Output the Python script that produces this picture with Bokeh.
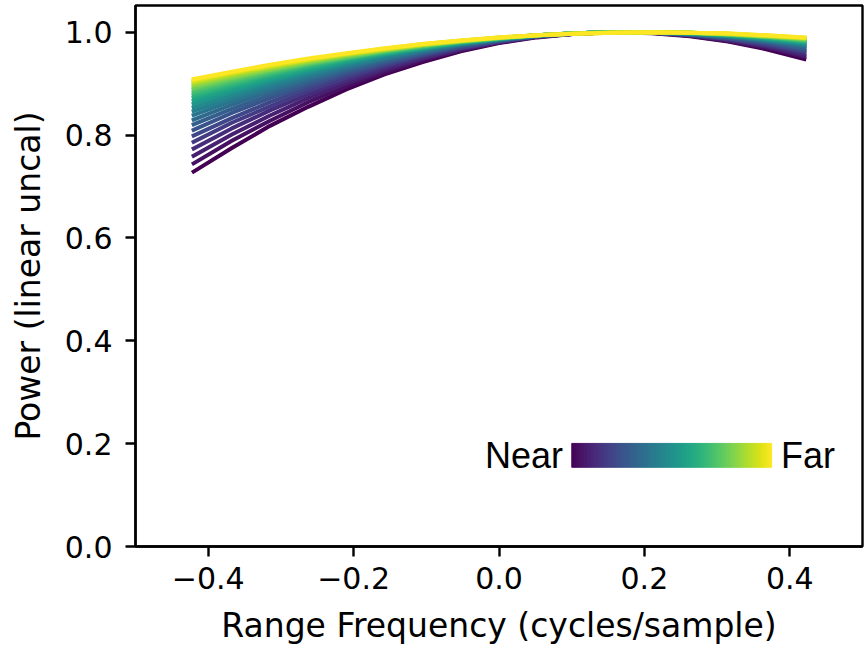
from bokeh.plotting import figure
from bokeh.models import FixedTicker, Range1d
from bokeh.palettes import viridis, Viridis256
from bokeh.core.properties import value
from bokeh.embed import file_html
from bokeh.resources import INLINE

# Range frequency sample positions (cycles/sample)
freq = [-0.42, -0.3675, -0.315, -0.2625, -0.21, -0.1575, -0.105, -0.0525, 0.0,
        0.0525, 0.105, 0.1575, 0.21, 0.2625, 0.315, 0.3675, 0.42]

# Normalised power per range bin, ordered from near (purple) to far (yellow)
curve_01 = [0.729, 0.775, 0.818, 0.855, 0.889, 0.918, 0.942, 0.963, 0.979, 0.990, 0.997, 1.000, 0.998, 0.992, 0.982, 0.967, 0.948]
curve_02 = [0.745, 0.789, 0.828, 0.864, 0.895, 0.922, 0.946, 0.965, 0.980, 0.991, 0.997, 1.000, 0.999, 0.993, 0.983, 0.970, 0.952]
curve_03 = [0.760, 0.801, 0.838, 0.872, 0.901, 0.927, 0.949, 0.967, 0.981, 0.991, 0.997, 1.000, 0.999, 0.994, 0.985, 0.972, 0.955]
curve_04 = [0.774, 0.813, 0.848, 0.879, 0.907, 0.931, 0.951, 0.968, 0.982, 0.991, 0.997, 1.000, 0.999, 0.994, 0.986, 0.974, 0.959]
curve_05 = [0.787, 0.824, 0.856, 0.886, 0.912, 0.935, 0.954, 0.970, 0.982, 0.992, 0.997, 1.000, 0.999, 0.995, 0.987, 0.976, 0.962]
curve_06 = [0.799, 0.833, 0.864, 0.892, 0.917, 0.938, 0.956, 0.971, 0.983, 0.992, 0.997, 1.000, 0.999, 0.995, 0.988, 0.978, 0.964]
curve_07 = [0.810, 0.843, 0.872, 0.898, 0.921, 0.941, 0.958, 0.973, 0.984, 0.992, 0.998, 1.000, 0.999, 0.996, 0.989, 0.980, 0.967]
curve_08 = [0.821, 0.851, 0.878, 0.903, 0.925, 0.944, 0.960, 0.974, 0.985, 0.992, 0.998, 1.000, 0.999, 0.996, 0.990, 0.981, 0.969]
curve_09 = [0.830, 0.859, 0.885, 0.908, 0.929, 0.947, 0.962, 0.975, 0.985, 0.993, 0.998, 1.000, 0.999, 0.996, 0.991, 0.983, 0.972]
curve_10 = [0.839, 0.866, 0.890, 0.912, 0.932, 0.949, 0.964, 0.976, 0.986, 0.993, 0.998, 1.000, 1.000, 0.997, 0.992, 0.984, 0.974]
curve_11 = [0.847, 0.872, 0.896, 0.917, 0.935, 0.951, 0.965, 0.977, 0.986, 0.993, 0.998, 1.000, 1.000, 0.997, 0.992, 0.985, 0.976]
curve_12 = [0.854, 0.878, 0.901, 0.920, 0.938, 0.954, 0.967, 0.978, 0.987, 0.993, 0.998, 1.000, 1.000, 0.997, 0.993, 0.986, 0.977]
curve_13 = [0.861, 0.884, 0.905, 0.924, 0.941, 0.956, 0.968, 0.979, 0.987, 0.993, 0.998, 1.000, 1.000, 0.998, 0.993, 0.987, 0.979]
curve_14 = [0.867, 0.889, 0.909, 0.927, 0.943, 0.957, 0.969, 0.979, 0.987, 0.994, 0.998, 1.000, 1.000, 0.998, 0.994, 0.988, 0.980]
curve_15 = [0.873, 0.894, 0.913, 0.930, 0.946, 0.959, 0.970, 0.980, 0.988, 0.994, 0.998, 1.000, 1.000, 0.998, 0.995, 0.989, 0.982]
curve_16 = [0.878, 0.898, 0.917, 0.933, 0.948, 0.960, 0.971, 0.981, 0.988, 0.994, 0.998, 1.000, 1.000, 0.998, 0.995, 0.990, 0.983]
curve_17 = [0.883, 0.902, 0.920, 0.936, 0.950, 0.962, 0.972, 0.981, 0.988, 0.994, 0.998, 1.000, 1.000, 0.999, 0.995, 0.991, 0.984]
curve_18 = [0.888, 0.906, 0.923, 0.938, 0.951, 0.963, 0.973, 0.982, 0.989, 0.994, 0.998, 1.000, 1.000, 0.999, 0.996, 0.991, 0.985]
curve_19 = [0.892, 0.910, 0.926, 0.940, 0.953, 0.964, 0.974, 0.982, 0.989, 0.994, 0.998, 1.000, 1.000, 0.999, 0.996, 0.992, 0.986]
curve_20 = [0.896, 0.913, 0.928, 0.942, 0.954, 0.965, 0.975, 0.983, 0.989, 0.994, 0.998, 1.000, 1.000, 0.999, 0.996, 0.992, 0.987]
curve_21 = [0.900, 0.916, 0.931, 0.944, 0.956, 0.966, 0.975, 0.983, 0.989, 0.994, 0.998, 0.999, 1.000, 0.999, 0.997, 0.993, 0.988]
curve_22 = [0.903, 0.919, 0.933, 0.946, 0.957, 0.967, 0.976, 0.983, 0.990, 0.994, 0.997, 0.999, 1.000, 0.999, 0.997, 0.993, 0.989]
curve_23 = [0.906, 0.921, 0.935, 0.947, 0.958, 0.968, 0.977, 0.984, 0.990, 0.994, 0.997, 0.999, 1.000, 0.999, 0.997, 0.994, 0.989]
curve_24 = [0.909, 0.923, 0.937, 0.949, 0.959, 0.969, 0.977, 0.984, 0.990, 0.994, 0.997, 0.999, 1.000, 0.999, 0.998, 0.994, 0.990]

curves = [curve_01, curve_02, curve_03, curve_04, curve_05, curve_06,
          curve_07, curve_08, curve_09, curve_10, curve_11, curve_12,
          curve_13, curve_14, curve_15, curve_16, curve_17, curve_18,
          curve_19, curve_20, curve_21, curve_22, curve_23, curve_24]

x_ticks = [-0.4, -0.2, 0.0, 0.2, 0.4]
x_tick_labels = ["\u22120.4", "\u22120.2", "0.0", "0.2", "0.4"]
y_ticks = [0.0, 0.2, 0.4, 0.6, 0.8, 1.0]
y_tick_labels = ["0.0", "0.2", "0.4", "0.6", "0.8", "1.0"]

legend_labels = ["Near", "Far"]

p = figure(width=865, height=647,
           x_range=Range1d(-0.5, 0.5), y_range=Range1d(0.0, 1.052),
           output_backend="svg", toolbar_location=None,
           min_border_left=135, min_border_right=3,
           min_border_top=5, min_border_bottom=99)
p.background_fill_color = "white"
p.border_fill_color = "white"
p.outline_line_color = "black"
p.outline_line_width = 2.4
p.xgrid.visible = False
p.ygrid.visible = False

colors = viridis(len(curves))
for c, col in zip(curves, colors):
    p.line(freq, c, line_color=col, line_width=4, line_cap="square",
           line_join="round")

# gradient legend bar (Near -> Far): adjacent slices, stroked in their own
# colour to hide anti-aliasing seams
bar_x0, bar_x1 = 0.100, 0.375
bar_y0, bar_y1 = 0.154, 0.2005
n = len(Viridis256)
w = (bar_x1 - bar_x0) / n
lefts = [bar_x0 + i * w for i in range(n)]
rights = [bar_x0 + (i + 1) * w for i in range(n)]
p.quad(left=lefts, right=rights, bottom=[bar_y0] * n, top=[bar_y1] * n,
       fill_color=list(Viridis256), line_color=list(Viridis256),
       line_width=0.8)
ymid = (bar_y0 + bar_y1) / 2
p.text(x=[bar_x0 - 0.012], y=[ymid], text=[legend_labels[0]],
       text_align="right", text_baseline="middle",
       text_font=value("Liberation Sans"), text_font_size="36px",
       text_color="black")
p.text(x=[bar_x1 + 0.013], y=[ymid], text=[legend_labels[1]],
       text_align="left", text_baseline="middle",
       text_font=value("Liberation Sans"), text_font_size="36px",
       text_color="black")

for ax in (p.xaxis[0], p.yaxis[0]):
    ax.axis_line_color = "black"
    ax.axis_line_width = 2.4
    ax.major_tick_line_color = "black"
    ax.major_tick_line_width = 2.4
    ax.major_tick_out = 10
    ax.major_tick_in = 0
    ax.minor_tick_line_color = None
    ax.major_label_text_font = "DejaVu Sans"
    ax.major_label_text_font_size = "30px"
    ax.major_label_text_color = "black"
    ax.axis_label_text_font = "DejaVu Sans"
    ax.axis_label_text_font_size = "33px"
    ax.axis_label_text_font_style = "normal"
    ax.axis_label_text_color = "black"

p.xaxis.ticker = FixedTicker(ticks=x_ticks)
p.xaxis.major_label_overrides = dict(zip(x_ticks, x_tick_labels))
p.yaxis.ticker = FixedTicker(ticks=y_ticks)
p.yaxis.major_label_overrides = dict(zip(y_ticks, y_tick_labels))
p.xaxis.axis_label = "Range Frequency (cycles/sample)"
p.yaxis.axis_label = "Power (linear uncal)"
p.xaxis.major_label_standoff = 10
p.xaxis.axis_label_standoff = 14
p.yaxis.major_label_standoff = 13
p.yaxis.axis_label_standoff = 14

open("out.html", "w").write(file_html(p, INLINE))
